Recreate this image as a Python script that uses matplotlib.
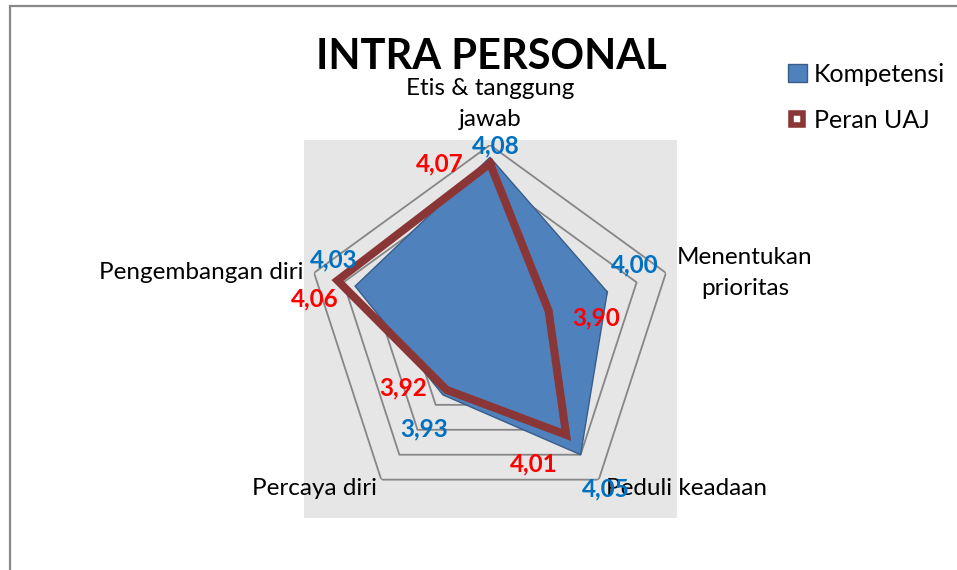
import numpy as np
import matplotlib

matplotlib.use("Agg")
import matplotlib.pyplot as plt
from matplotlib.lines import Line2D
from matplotlib.patches import Patch, Rectangle

plt.rcParams["font.family"] = ["Lato", "DejaVu Sans"]

TITLE = "INTRA PERSONAL"
CATEGORIES = ["Etis & tanggung\njawab", "Menentukan\nprioritas", "Peduli keadaan", "Percaya diri", "Pengembangan diri"]
KOMPETENSI = [4.08, 4.00, 4.05, 3.93, 4.03]
PERAN_UAJ = [4.07, 3.90, 4.01, 3.92, 4.06]
RING_VALUES = [3.85, 3.90, 3.95, 4.00, 4.05, 4.10]
R_MIN, R_MAX = 3.80, 4.10

BLUE = "#4f81bd"
BLUE_EDGE = "#385d8a"
RED_LINE = "#8b3636"
BLUE_TEXT = "#0070c0"
RED_TEXT = "#ff0000"
GRID = "#868686"

W, H = 957, 570


def px(dx, dy):
    # pixel offset -> points
    return (dx * 0.72, dy * 0.72)


fig = plt.figure(figsize=(W / 100, H / 100), dpi=100)

# chart border (right/bottom edge falls outside the image)
fig.add_artist(Rectangle((10 / W, -0.2), 1.2, 1.2 - 6 / H, transform=fig.transFigure,
                         fill=False, edgecolor="#888888", linewidth=1.6))
# gray plot area
fig.add_artist(Rectangle((304 / W, 1 - 518 / H), 373 / W, 378 / H, transform=fig.transFigure,
                         facecolor="#e6e6e6", edgecolor="none", zorder=0))

cx, cy, rad = 490, 330, 185
ax = fig.add_axes([(cx - rad) / W, (H - cy - rad) / H, 2 * rad / W, 2 * rad / H], projection="polar")
ax.set_theta_zero_location("N")
ax.set_theta_direction(-1)
ax.set_ylim(R_MIN, R_MAX)
ax.grid(False)
ax.set_xticks([])
ax.set_yticks([])
ax.spines["polar"].set_visible(False)
ax.patch.set_visible(False)

n = len(CATEGORIES)
theta = np.arange(n) * 2 * np.pi / n
theta_c = np.append(theta, theta[0])

for rv in RING_VALUES:
    ax.plot(theta_c, [rv] * (n + 1), color=GRID, linewidth=1.3, zorder=1)

komp = np.append(KOMPETENSI, KOMPETENSI[0])
peran = np.append(PERAN_UAJ, PERAN_UAJ[0])
ax.fill(theta_c, komp, facecolor=BLUE, edgecolor=BLUE_EDGE, linewidth=1.0, zorder=2)
ax.plot(theta_c, peran, color=RED_LINE, linewidth=5.8, solid_joinstyle="miter", zorder=3)

# data labels (offsets in pixels)
komp_off = [(6, 11), (27, 27), (25, -34), (-19, -34), (-21, 26)]
peran_off = [(-50, 0), (47, -7), (-32, -29), (-43, 2), (-23, -18)]
for t, v, off in zip(theta, KOMPETENSI, komp_off):
    ax.annotate(f"{v:.2f}".replace(".", ","), xy=(t, v), xytext=px(*off), textcoords="offset points",
                ha="center", va="center", color=BLUE_TEXT, fontsize=17.5, fontweight="bold", zorder=5,
                annotation_clip=False)
for t, v, off in zip(theta, PERAN_UAJ, peran_off):
    ax.annotate(f"{v:.2f}".replace(".", ","), xy=(t, v), xytext=px(*off), textcoords="offset points",
                ha="center", va="center", color=RED_TEXT, fontsize=17.5, fontweight="bold", zorder=5,
                annotation_clip=False)

# category labels
cat_off = [(0, 41), (79, 0), (88, -9), (-67, -9), (-113, 0)]
for t, name, off in zip(theta, CATEGORIES, cat_off):
    ax.annotate(name, xy=(t, R_MAX), xytext=px(*off), textcoords="offset points", ha="center", va="center",
                fontsize=17.5, color="black", linespacing=1.6, annotation_clip=False, zorder=4)

fig.text(491 / W, 1 - 57 / H, TITLE, ha="center", va="center", fontsize=30, fontweight="bold")

handles = [
    Patch(facecolor=BLUE, edgecolor=BLUE_EDGE, label="Kompetensi"),
    Line2D([], [], linestyle="none", marker="s", markersize=9, markerfacecolor="white",
           markeredgecolor=RED_LINE, markeredgewidth=4, label="Peran UAJ"),
]
fig.legend(handles=handles, loc="upper left", bbox_to_anchor=(788 / W, 1 - 63 / H), frameon=False,
           fontsize=18, handlelength=0.75, handleheight=0.75, handletextpad=0.3, labelspacing=0.9,
           borderaxespad=0, borderpad=0)

fig.savefig("out.png", dpi=100)
